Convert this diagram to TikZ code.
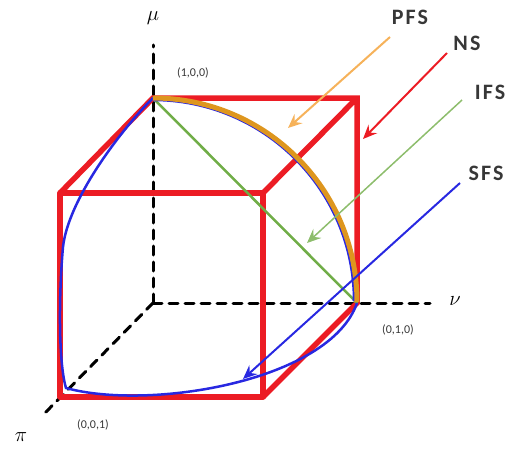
\documentclass[tikz,border=0pt]{standalone}
\usepackage{amsmath, amssymb}
\usepackage{fontspec}
\setmainfont{Carlito}
\newfontfamily\setfont[LetterSpace=10]{Carlito}
\usepackage{tikz}
\usetikzlibrary{arrows.meta}
\usepackage{tkz-euclide}

\definecolor{cubered}{RGB}{236,28,36}
\definecolor{sfsblue}{RGB}{40,40,225}
\definecolor{ifsgreen}{RGB}{112,173,71}
\definecolor{pfsorange}{RGB}{222,150,30}
\definecolor{pfslight}{RGB}{246,178,90}
\definecolor{lblgray}{RGB}{55,55,55}

\tikzset{
  axis/.style={black, line width=3pt, dash pattern=on 9pt off 7pt},
  cube/.style={cubered, line width=5.5pt},
  sfs/.style={sfsblue, line width=2.5pt},
  ifs/.style={ifsgreen, line width=2.5pt},
  pfs/.style={pfsorange, line width=5pt},
  pointer/.style={line width=2pt, -{Stealth[length=14pt, width=12pt, inset=5pt]}},
  setlbl/.style={text=lblgray, font=\setfont\fontsize{22}{22}\selectfont\bfseries},
  coordlbl/.style={text=lblgray, font=\fontsize{12}{12}\selectfont},
  axislbl/.style={font=\fontsize{20}{20}\selectfont}
}

\begin{document}
\begin{tikzpicture}[x=1pt, y=1pt]
                \useasboundingbox (0,0) rectangle (514,451);
                \tkzDefPoints{153/148/O, 153/353/A, 357/148/B, 60/54/C, 357/353/D,
                  60/258/E, 263/258/F, 263/54/G, 63/204/L, 66/63/K,
                  153/406/M, 430/148/N, 43/36/P}
                % pointer ends
                \tkzDefPoints{390/414/Pa, 288/323/Pb, 447/398/Na, 363/312/Nb,
                  462/351/Ia, 307/208/Ib, 460/268/Sa, 243/72/Sb}
                \tkzDrawSegments[axis](O,M O,N O,P)
                \tkzDrawPolygon[cube](E,F,G,C)
                \draw[cube] (E) -- (A) -- (D) -- (B) -- (G) (D) -- (F);
                \tkzDrawSegment[ifs](A,B)
                \draw[sfs] (A) .. controls (118,318) and (68,250) .. (L)
                  .. controls (59,160) and (58,90) .. (K)
                  .. controls (150,40) and (330,70) .. (B);
                \draw[sfs] (A) ++(0,-2) arc[start angle=90, end angle=0, radius=201];
                \draw[pfs] (A) arc[start angle=90, end angle=0, radius=204];
                \draw[pointer, pfslight] (Pa) -- (Pb);
                \draw[pointer, cubered] (Na) -- (Nb);
                \draw[pointer, ifsgreen!80!white, line width=1.5pt] (Ia) -- (Ib);
                \draw[pointer, sfsblue] (Sa) -- (Sb);
                \node[setlbl] (pfs) at (410,434) {PFS};
                \node[setlbl] (ns) at (467,408) {NS};
                \node[setlbl] (ifs) at (490,359) {IFS};
                \node[setlbl] (sfs) at (486,278) {SFS};
                \node[axislbl] (mu) at (153,433) {$\mu$};
                \node[axislbl] (nu) at (455,150) {$\nu$};
                \node[axislbl] (pi) at (21,14) {$\pi$};
                \node[coordlbl] (a) at (193,378) {(1,0,0)};
                \node[coordlbl] (b) at (398,121) {(0,1,0)};
                \node[coordlbl] (c) at (93,26) {(0,0,1)};
            \end{tikzpicture}
\end{document}
